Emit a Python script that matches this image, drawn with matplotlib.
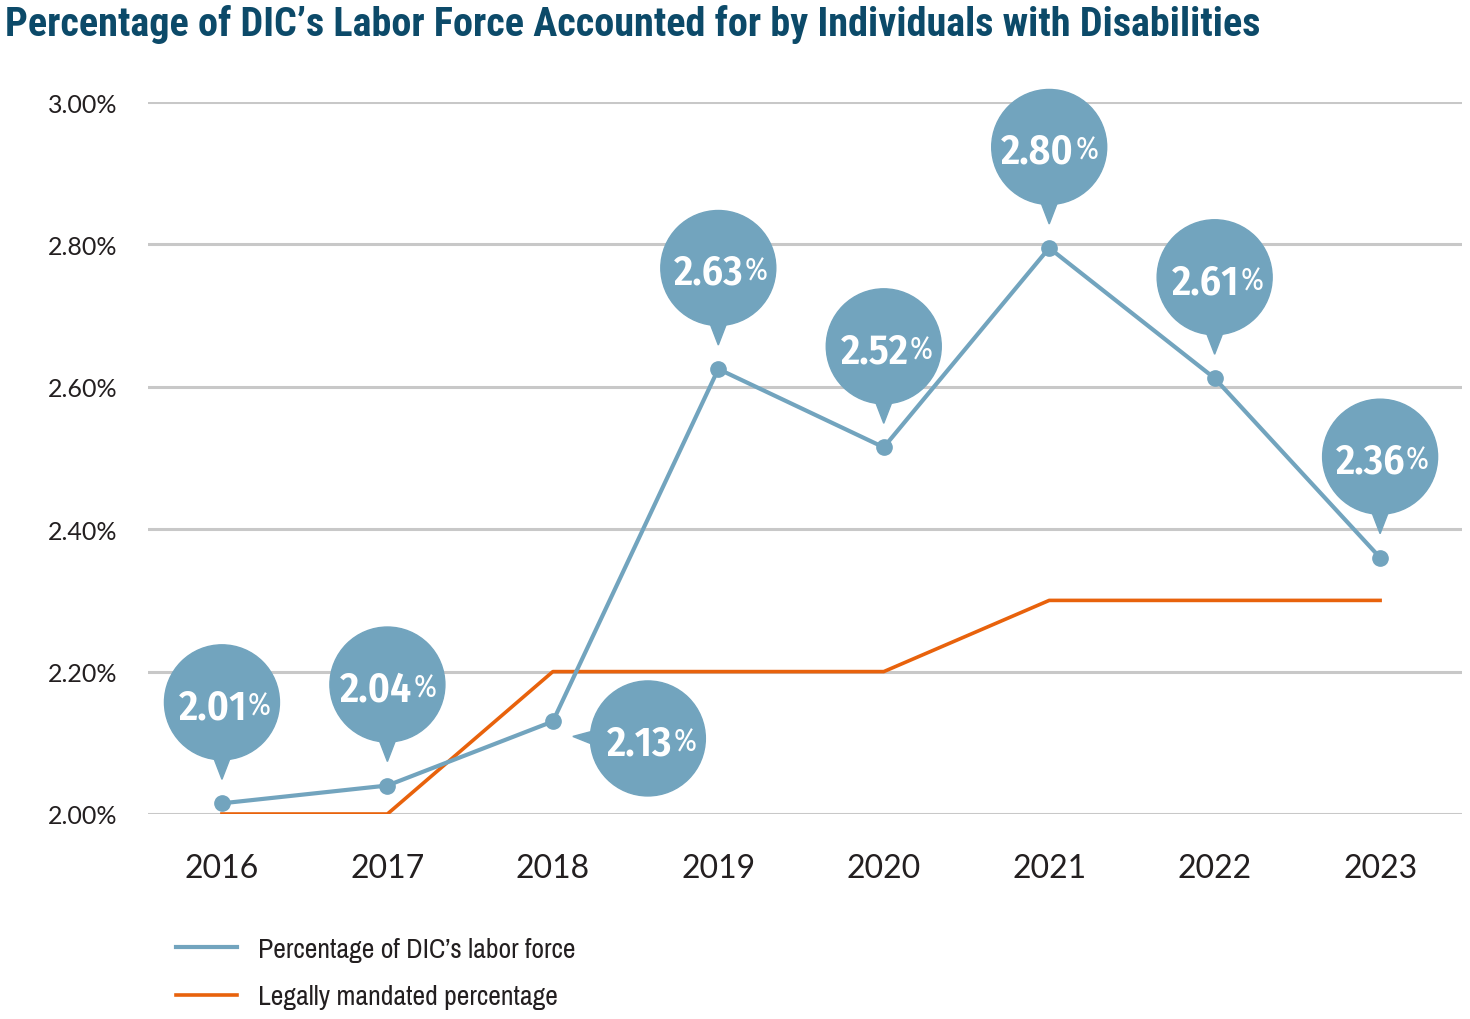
import matplotlib.pyplot as plt
import matplotlib.patches as mpatches
import matplotlib.transforms as mtransforms
import numpy as np

years = [2016, 2017, 2018, 2019, 2020, 2021, 2022, 2023]
dic_pct = [2.015, 2.04, 2.13, 2.625, 2.515, 2.795, 2.612, 2.36]
dic_labels = ['2.01', '2.04', '2.13', '2.63', '2.52', '2.80', '2.61', '2.36']
legal_pct = [2.0, 2.0, 2.2, 2.2, 2.2, 2.3, 2.3, 2.3]
yticks = [2.0, 2.2, 2.4, 2.6, 2.8, 3.0]

blue = '#72a4be'
orange = '#e8620c'
title_col = '#0c4a69'
txt_col = '#231f20'

narrow = ['Archivo Narrow', 'Liberation Sans Narrow', 'DejaVu Sans']
title_font = ['Roboto Condensed', 'Fira Sans Condensed', 'Archivo Narrow', 'DejaVu Sans']
bubble_font = ['Fira Sans Condensed', 'Open Sans', 'DejaVu Sans']
tick_font = ['Lato', 'DejaVu Sans']

fig = plt.figure(figsize=(14.7, 10.2), dpi=100)
ax = fig.add_axes([148/1470, 1-815/1020, (1462-148)/1470, (815-103)/1020])

ax.set_xlim(2015.553, 2023.495)
ax.set_ylim(2.0, 3.0)
for s in ax.spines.values():
    s.set_visible(False)
ax.set_yticks(yticks)
ax.set_yticklabels(['%.2f%%' % v for v in yticks], family=tick_font, fontsize=18, color=txt_col)
ax.set_xticks(years)
ax.set_xticklabels([str(y) for y in years], family=tick_font, fontsize=23, color=txt_col)
ax.tick_params(axis='y', length=0, pad=22)
ax.tick_params(axis='x', length=0, pad=28)
ax.grid(axis='y', color='#c8c8c8', lw=2.2)
ax.set_axisbelow(True)

ax.plot(years, legal_pct, color=orange, lw=2.6, label='Legally mandated percentage', zorder=3)
ax.plot(years, dic_pct, color=blue, lw=3, marker='o', ms=11, label="Percentage of DIC\u2019s labor force", zorder=4)

# speech bubbles, sizes in inches around each point
for x, y, lab in zip(years, dic_pct, dic_labels):
    tr = fig.dpi_scale_trans + mtransforms.ScaledTranslation(x, y, ax.transData)
    if x == 2018:
        cx, cy = 0.95, -0.17
        tail = [(0.5, -0.07), (0.5, -0.27), (0.20, -0.15)]
    else:
        cx, cy = 0.0, 1.01
        tail = [(-0.10, 0.5), (0.10, 0.5), (0.0, 0.24)]
    ax.add_patch(mpatches.Circle((cx, cy), 0.575, transform=tr, color=blue, clip_on=False, zorder=5))
    ax.add_patch(mpatches.Polygon(tail, closed=True, transform=tr, color=blue, clip_on=False, zorder=5))
    ax.text(cx + 0.25, cy, lab, transform=tr, ha='right', va='center_baseline', family=bubble_font,
            fontweight='semibold', fontsize=30, color='white', zorder=6)
    ax.text(cx + 0.26, cy, '%', transform=tr, ha='left', va='center_baseline', family=bubble_font,
            fontsize=22, color='white', zorder=6)

fig.text(5/1470, 1-5/1020, 'Percentage of DIC\u2019s Labor Force Accounted for by Individuals with Disabilities',
         family=title_font, fontweight='bold', fontsize=29, color=title_col,
         ha='left', va='top')

h, l = ax.get_legend_handles_labels()
leg = ax.legend(h[::-1], l[::-1], loc='upper left', bbox_to_anchor=(176/1470, 1-938/1020),
                bbox_transform=fig.transFigure, frameon=False, borderpad=0, borderaxespad=0,
                handlelength=2.2, handletextpad=0.75, labelspacing=0.8,
                prop={'family': narrow, 'size': 20})
for line in leg.get_lines():
    line.set_marker('')
for t in leg.get_texts():
    t.set_color(txt_col)

fig.savefig('out.png', dpi=100)
